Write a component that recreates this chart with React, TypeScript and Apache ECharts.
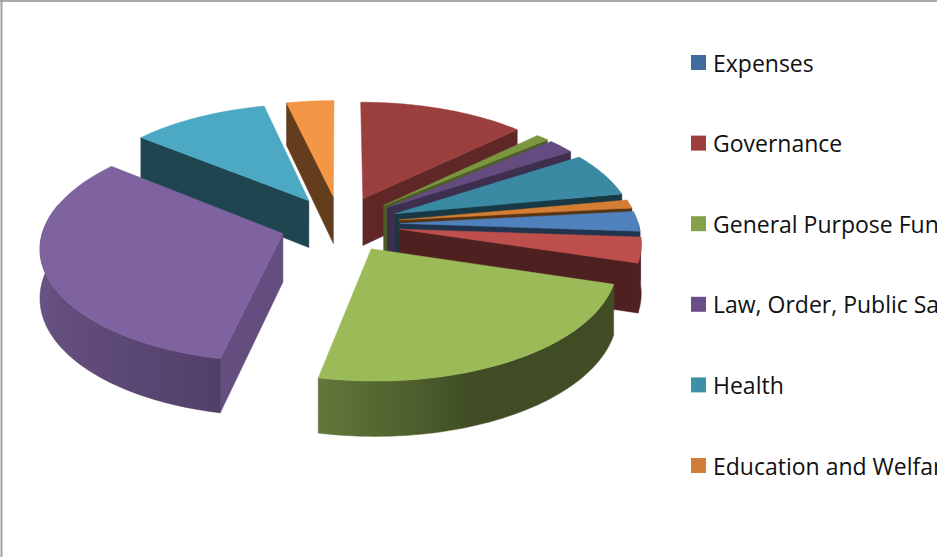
import React, { useEffect, useRef } from "react";
import * as echarts from "echarts";

// Legend entries, in the order the workbook lists them.
const categories = [
  "Expenses",
  "Governance",
  "General Purpose Fund",
  "Law, Order, Public Safety",
  "Health",
  "Education and Welfare",
];
const legendColors = ["#416B9F", "#9E3F3D", "#86A14A", "#6A4E8A", "#3D90A8", "#D07E37"];

// Share of the total per slice, clockwise from twelve o'clock.
const sliceValues = [0, 12.78, 0.97, 2.08, 6.25, 1.19, 2.83, 3.61, 23.61, 32.5, 10.56, 3.62];
const sliceColors = [
  "#376092", "#9A3F3D", "#7A963F", "#644C80", "#3A8AA3", "#D57D33",
  "#4F81BD", "#BE4F4C", "#9BBB59", "#7F63A1", "#4BA9C4", "#F39645",
];

const total = sliceValues.reduce((a, b) => a + b, 0);
const cumulative: number[] = [];
sliceValues.reduce((sum, v, i) => ((cumulative[i] = sum), sum + v), 0);

// Camera and pie proportions for the tilted, exploded disc.
const CX = 340;
const CY = 224;
const RADIUS = 238.5;
const DEPTH = 48;
const EXPLODE_X = 60;
const EXPLODE_V = 60;
const TILT = 0.47;
const PERSPECTIVE = 2200;

const rad = (d: number) => (d * Math.PI) / 180;

function project(theta: number, r: number, mid: number, drop: boolean): number[] {
  const x = r * Math.sin(rad(theta)) + EXPLODE_X * Math.sin(rad(mid));
  const v = r * Math.cos(rad(theta)) + EXPLODE_V * Math.cos(rad(mid));
  const s = 1 / (1 + v / PERSPECTIVE);
  return [CX + s * x, CY - s * v * TILT + (drop ? DEPTH * s : 0)];
}

function shade(color: string, f: number): string {
  const n = parseInt(color.slice(1), 16);
  const c = [(n >> 16) & 255, (n >> 8) & 255, n & 255].map((p) => Math.round(p * f));
  return `rgb(${c[0]},${c[1]},${c[2]})`;
}

// Brightness of the curved outer wall, by the direction it faces.
function wallLight(theta: number): number {
  if (theta >= 195) return 0.66 + ((Math.min(theta, 275) - 195) / 80) * 0.24;
  if (theta >= 160) return 0.42 + ((theta - 160) / 35) * 0.24;
  return 0.41;
}

function renderSlice(params: any, api: any) {
  const i = params.seriesIndex;
  const value = api.value(0);
  const children: any[] = [];
  if (!(value > 0)) return { type: "group", children };

  const start = (cumulative[i] / total) * 360;
  const end = start + (value / total) * 360;
  const mid = (start + end) / 2;
  const base = sliceColors[i];
  const z2 = Math.round((1 - Math.cos(rad(mid))) * 1000);

  const apex = project(0, 0, mid, false);
  const apexLow = project(0, 0, mid, true);

  const addFace = (points: number[][], fill: any, stroke: string, order: number) => {
    children.push({
      type: "polygon",
      z2: z2 + order,
      shape: { points },
      style: { fill, stroke, lineWidth: 0.5 },
      silent: true,
    });
  };

  // Radial walls: only the one turned towards the viewer shows.
  if (Math.sin(rad(start)) < 0) {
    const c = shade(base, start < 200 ? 0.79 : 0.41);
    addFace(
      [apex, project(start, RADIUS, mid, false), project(start, RADIUS, mid, true), apexLow],
      c, c, 1
    );
  }
  if (Math.sin(rad(end)) > 0) {
    const c = shade(base, end < 60 ? 0.62 : 0.41);
    addFace(
      [apex, project(end, RADIUS, mid, false), project(end, RADIUS, mid, true), apexLow],
      c, c, 2
    );
  }

  // Curved outer wall along the front of the rim.
  const from = Math.max(start, 90);
  const to = Math.min(end, 285);
  if (to > from) {
    const upper: number[][] = [];
    const lower: number[][] = [];
    for (let t = from; t < to; t += 1) {
      upper.push(project(t, RADIUS, mid, false));
      lower.push(project(t, RADIUS, mid, true));
    }
    upper.push(project(to, RADIUS, mid, false));
    lower.push(project(to, RADIUS, mid, true));
    const xs = upper.concat(lower).map((p) => p[0]);
    const minX = Math.min(...xs);
    const maxX = Math.max(...xs);
    // Stops run along the rim while x stays monotonic, up to the left-most point.
    const stops: { offset: number; color: string }[] = [];
    for (let t = from; t <= Math.min(to, 268); t += 4) {
      const p = project(t, RADIUS, mid, false);
      stops.push({
        offset: (p[0] - minX) / (maxX - minX || 1),
        color: shade(base, wallLight(t)),
      });
    }
    stops.sort((a, b) => a.offset - b.offset);
    const fill = stops.length > 1
      ? new echarts.graphic.LinearGradient(0, 0, 1, 0, stops)
      : shade(base, wallLight(from));
    addFace(upper.concat(lower.reverse()), fill, shade(base, 0.5), 3);
  }

  // Top face.
  const top: number[][] = [apex];
  for (let t = start; t < end; t += 1) top.push(project(t, RADIUS, mid, false));
  top.push(project(end, RADIUS, mid, false));
  addFace(top, base, base, 4);

  return { type: "group", children };
}

export default function App() {
  const ref = useRef<HTMLDivElement>(null);

  useEffect(() => {
    document.body.style.margin = "0";
    const chart = echarts.init(ref.current!, undefined, { renderer: "svg" });
    chart.setOption({
      animation: false,
      backgroundColor: "#ffffff",
      legend: {
        orient: "vertical",
        left: 686,
        top: 46,
        height: 520,
        icon: "rect",
        itemWidth: 15,
        itemHeight: 15,
        itemGap: 57.6,
        selectedMode: false,
        textStyle: {
          color: "#111111",
          fontFamily: "'Open Sans', 'Noto Sans', sans-serif",
          fontSize: 23,
          padding: [0, 0, 0, 2],
        },
        data: categories.map((name, i) => ({ name, itemStyle: { color: legendColors[i] } })),
      },
      graphic: [
        {
          type: "line",
          silent: true,
          shape: { x1: 0, y1: 1, x2: 937, y2: 1 },
          style: { stroke: "#8c8c8c", lineWidth: 1.5 },
        },
        {
          type: "line",
          silent: true,
          shape: { x1: 1.5, y1: 0, x2: 1.5, y2: 557 },
          style: { stroke: "#a0a0a0", lineWidth: 2 },
        },
      ],
      series: sliceValues.map((value, i) => ({
        type: "custom",
        name: categories[i % categories.length],
        coordinateSystem: "none",
        itemStyle: { color: legendColors[i % legendColors.length] },
        renderItem: renderSlice,
        data: [[value]],
        silent: true,
      })),
    });
    return () => chart.dispose();
  }, []);

  return <div ref={ref} style={{ width: 937, height: 557, overflow: "hidden" }} />;
}
